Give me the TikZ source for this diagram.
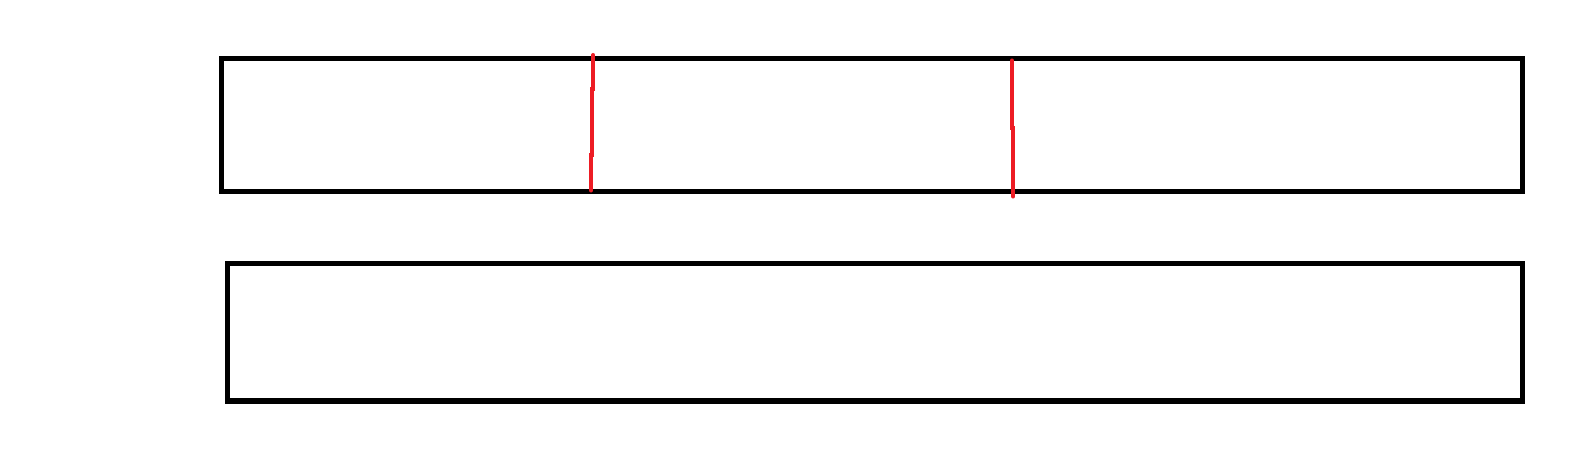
\documentclass[tikz,border=0pt]{standalone}
\usepackage{tikz}
\usetikzlibrary{calc}
\definecolor{cutcolor}{RGB}{237,28,36}

\begin{document}
\begin{tikzpicture}[x=0.02cm, y=-0.02cm]
  \useasboundingbox (0,0) rectangle (1579,465);
  % upper bar
  \draw[line width=2.85pt] (221.5,59) rectangle (1522,192);
  % lower bar
  \draw[line width=2.85pt] (227.5,264) rectangle (1522,401);
  % first cut
  \draw[cutcolor, line width=2.3pt, line cap=round] (593.3,55) -- (593.3,89) -- (592.3,89) -- (592.3,155) -- (591,155) -- (591,190.5);
  % second cut
  \draw[cutcolor, line width=2.3pt, line cap=round] (1012,60.5) -- (1012,128) -- (1013.3,128) -- (1013.3,196.5);
\end{tikzpicture}
\end{document}
